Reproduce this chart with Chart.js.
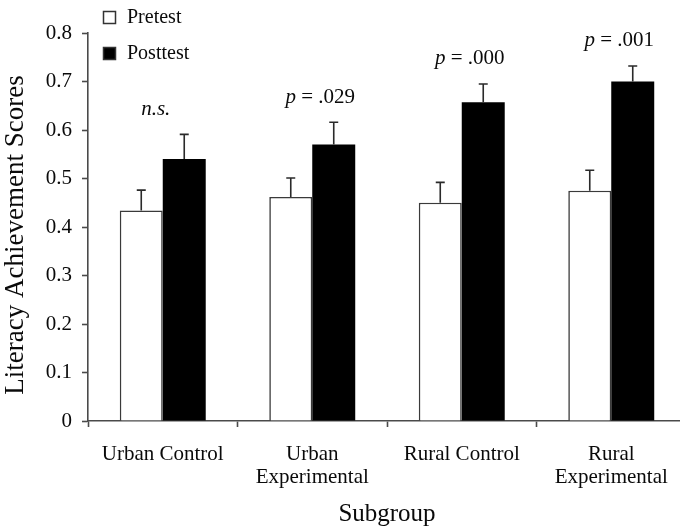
<!DOCTYPE html>
<html>
<head>
<meta charset="utf-8">
<script src="https://cdn.jsdelivr.net/npm/chart.js@4/dist/chart.umd.min.js"></script>
<style>
  html, body { margin: 0; padding: 0; background: #fff; overflow: hidden; }
  #wrap { position: absolute; left: 0; top: 0; width: 686px; height: 529px; }
</style>
</head>
<body>
<div id="wrap"><canvas id="chart"></canvas></div>
<script>
// Subgroups along the x axis
const categories = [['Urban Control'], ['Urban', 'Experimental'], ['Rural Control'], ['Rural', 'Experimental']];

// Mean literacy achievement scores
const pretest = [0.434, 0.462, 0.450, 0.475];
const posttest = [0.540, 0.570, 0.657, 0.700];

// Standard errors (drawn upward only)
const pretestErr = [0.042, 0.039, 0.042, 0.042];
const posttestErr = [0.051, 0.046, 0.038, 0.032];

// Significance of the pre/post difference
const sigItalic = ['n.s.', 'p', 'p', 'p'];
const sigRest = ['', ' = .029', ' = .000', ' = .001'];

// Y axis range
const yMin = 0;
const yMax = 0.8;
const yStep = 0.1;

const yTitle = 'Literacy Achievement Scores';
const xTitle = 'Subgroup';

const SERIF = "'Liberation Serif', 'Times New Roman', Times, serif";
const AXIS = '#4a4a4a';
const INK = '#0a0a0a';

const errorBars = {
  id: 'errorBars',
  afterDatasetsDraw(chart) {
    const ctx = chart.ctx;
    const y = chart.scales.y;
    const errs = [pretestErr, posttestErr];
    ctx.save();
    ctx.strokeStyle = '#2a2a2a';
    ctx.lineWidth = 1.6;
    chart.data.datasets.forEach((ds, di) => {
      chart.getDatasetMeta(di).data.forEach((bar, i) => {
        const top = y.getPixelForValue(ds.data[i] + errs[di][i]);
        ctx.beginPath();
        ctx.moveTo(bar.x, bar.y);
        ctx.lineTo(bar.x, top);
        ctx.moveTo(bar.x - 4.5, top);
        ctx.lineTo(bar.x + 4.5, top);
        ctx.stroke();
      });
    });
    ctx.restore();
  }
};

const sigText = {
  id: 'sigText',
  afterDatasetsDraw(chart) {
    const ctx = chart.ctx;
    const x = chart.scales.x;
    const y = chart.scales.y;
    ctx.save();
    ctx.fillStyle = INK;
    ctx.textBaseline = 'middle';
    ctx.textAlign = 'left';
    categories.forEach((c, i) => {
      const capY = y.getPixelForValue(posttest[i] + posttestErr[i]);
      const ty = capY - 25;
      const shift = sigRest[i] === '' ? -7 : 8;
      const cx = x.getPixelForValue(i) + shift;
      ctx.font = 'italic 21px ' + SERIF;
      const w1 = ctx.measureText(sigItalic[i]).width;
      ctx.font = '21px ' + SERIF;
      const w2 = ctx.measureText(sigRest[i]).width;
      const x0 = cx - (w1 + w2) / 2;
      ctx.font = 'italic 21px ' + SERIF;
      ctx.fillText(sigItalic[i], x0, ty);
      ctx.font = '21px ' + SERIF;
      ctx.fillText(sigRest[i], x0 + w1, ty);
    });
    ctx.restore();
  }
};

// Vertical axis title, sitting slightly below the plot's midpoint
const sideTitle = {
  id: 'sideTitle',
  afterDraw(chart) {
    const ctx = chart.ctx;
    const area = chart.chartArea;
    ctx.save();
    ctx.translate(16, (area.top + area.bottom) / 2 + 8);
    ctx.rotate(-Math.PI / 2);
    ctx.font = '27px ' + SERIF;
    ctx.fillStyle = INK;
    ctx.textAlign = 'center';
    ctx.textBaseline = 'middle';
    ctx.fillText(yTitle, 0, 0);
    ctx.restore();
  }
};

const boxLegend = {
  id: 'boxLegend',
  afterDraw(chart) {
    const ctx = chart.ctx;
    ctx.save();
    ctx.font = '20px ' + SERIF;
    ctx.textBaseline = 'middle';
    ctx.textAlign = 'left';
    chart.data.datasets.forEach((ds, i) => {
      const bx = 103.5, by = 11.5 + i * 36, s = 12;
      ctx.fillStyle = ds.backgroundColor;
      ctx.fillRect(bx, by, s, s);
      ctx.strokeStyle = '#333';
      ctx.lineWidth = 1.5;
      ctx.strokeRect(bx, by, s, s);
      ctx.fillStyle = INK;
      ctx.fillText(ds.label, 127, by + s / 2);
    });
    ctx.restore();
  }
};

new Chart(document.getElementById('chart'), {
  type: 'bar',
  data: {
    labels: categories,
    datasets: [
      {
        label: 'Pretest',
        data: pretest,
        backgroundColor: '#ffffff',
        borderColor: '#3a3a3a',
        borderWidth: 1.6,
        borderSkipped: 'bottom'
      },
      {
        label: 'Posttest',
        data: posttest,
        backgroundColor: '#000000',
        borderColor: '#000000',
        borderWidth: 0
      }
    ]
  },
  options: {
    responsive: true,
    maintainAspectRatio: false,
    devicePixelRatio: 1,
    animation: false,
    categoryPercentage: 0.575,
    barPercentage: 1.0,
    layout: { padding: { top: 33, left: 0, right: 0, bottom: 0 } },
    plugins: {
      legend: { display: false },
      tooltip: { enabled: false }
    },
    scales: {
      x: {
        afterFit(scale) { scale.height = 108; },
        border: { display: true, color: AXIS, width: 1.6 },
        grid: {
          display: true,
          drawOnChartArea: false,
          drawTicks: true,
          tickLength: 6,
          tickColor: AXIS,
          tickWidth: 1.6,
          offset: true
        },
        ticks: {
          color: INK,
          font: { family: SERIF, size: 21, lineHeight: 1.1 },
          padding: 16,
          maxRotation: 0,
          autoSkip: false
        },
        title: {
          display: true,
          text: xTitle,
          color: INK,
          font: { family: SERIF, size: 25, lineHeight: 1.2 },
          padding: { top: 0, bottom: 0 }
        }
      },
      y: {
        min: yMin,
        max: yMax,
        afterFit(scale) { scale.width = 88; },
        border: { display: true, color: AXIS, width: 1.6 },
        grid: {
          display: true,
          drawOnChartArea: false,
          drawTicks: true,
          tickLength: 6,
          tickColor: AXIS,
          tickWidth: 1.6
        },
        ticks: {
          stepSize: yStep,
          color: INK,
          padding: 10,
          font: { family: SERIF, size: 21 },
          callback: (v) => (v === 0 ? '0' : Number(v).toFixed(1))
        },
        title: { display: false }
      }
    }
  },
  plugins: [errorBars, sigText, sideTitle, boxLegend]
});
</script>
</body>
</html>
